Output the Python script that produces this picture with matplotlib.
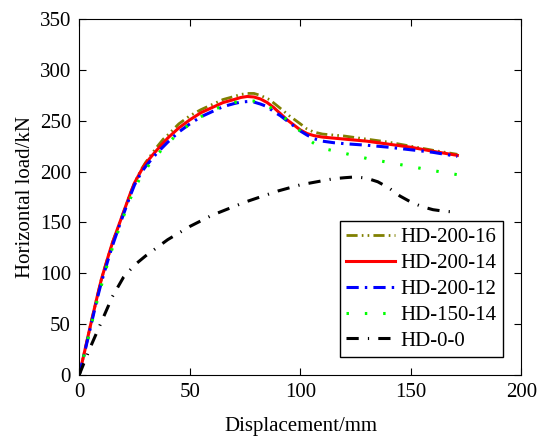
import matplotlib
matplotlib.use("Agg")
from matplotlib import pyplot as plt

# curves (displacement mm, horizontal load kN)
x_200_16 = [0, 2, 5, 8, 10, 13, 15, 18, 20, 23, 25, 28, 30, 33, 35, 38, 40, 45, 50, 55, 60, 65, 70,
            73, 76, 79, 82, 86, 90, 95, 100, 103, 106, 110, 120, 130, 140, 150, 160, 171]
y_200_16 = [0, 19, 48, 76, 94, 116, 130, 148, 160, 178, 189, 202, 209, 218, 224, 232, 236, 247, 255, 261, 266, 271, 274,
            276, 277, 277, 275, 271, 264, 255, 247, 242, 239, 237, 235, 232, 229, 225, 221, 217]

x_200_14 = [0, 2, 5, 8, 10, 13, 15, 18, 20, 23, 25, 28, 30, 33, 35, 40, 45, 50, 55, 60, 65, 70,
            73, 76, 79, 82, 85, 88, 91, 94, 97, 100, 103, 106, 110, 120, 130, 140, 150, 160, 171]
y_200_14 = [0, 19, 48, 76, 94, 116, 130, 148, 160, 178, 189, 201, 208, 216, 221, 233, 243, 251, 258, 263, 268, 271,
            273, 274, 273.5, 271.5, 268, 263, 257, 251, 246, 241, 237.5, 235.5, 234, 232, 230, 227, 224, 220, 216]

x_200_12 = [0, 2, 5, 8, 10, 13, 15, 18, 20, 23, 25, 28, 30, 33, 35, 40, 45, 50, 55, 60, 65, 70,
            73, 76, 79, 82, 85, 88, 91, 94, 97, 100, 103, 106, 110, 115, 120, 130, 140, 150, 160, 171]
y_200_12 = [0, 18, 46, 74, 91, 113, 127, 146, 158, 176, 187, 199, 205, 213, 218, 229, 239, 247, 254, 259, 264, 267,
            268.5, 269, 268.5, 266.5, 264, 259, 255, 250, 245, 240, 236, 232.5, 230, 228.5, 227.5, 226, 224, 221.5, 219, 215]

x_150_14 = [0, 2, 5, 8, 10, 13, 15, 18, 20, 23, 25, 28, 30, 33, 35, 40, 45, 50, 55, 60, 65, 70,
            73, 76, 79, 82, 85, 88, 91, 94, 97, 100, 103, 106, 110, 120, 130, 140, 150, 160, 171]
y_150_14 = [0, 18, 45, 72, 88, 111, 125, 144, 156, 173, 183, 196, 202, 211, 216, 228, 238, 247, 254, 260, 265, 268,
            269.5, 270, 269.5, 267.5, 265, 261, 256, 251, 245, 240, 233, 228, 223, 218, 213, 209, 205, 201, 197]

x_0_0 = [0, 5, 10, 15, 20, 25, 30, 40, 50, 60, 75, 90, 100, 110, 115, 120, 125, 130, 135, 140, 145,
         150, 155, 160, 165, 171]
y_0_0 = [0, 27, 52, 77, 96, 108, 117, 133, 146, 157, 170, 181, 187, 191, 193, 194, 194.8, 193.5, 190, 184, 176,
         170, 165.5, 162.5, 161, 160]

plt.rcParams["font.family"] = ["Liberation Serif", "DejaVu Serif"]

fig = plt.figure(figsize=(5.39, 4.37), dpi=100)
ax = fig.add_axes([0.1471, 0.1426, 0.8204, 0.8132])

ax.plot(x_200_16, y_200_16, color="#808000", lw=2.0, dashes=(4, 1.5, 0.6, 1.5, 0.6, 1.5), label="HD-200-16")
ax.plot(x_200_14, y_200_14, color="red", lw=2.2, label="HD-200-14")
ax.plot(x_200_12, y_200_12, color="blue", lw=2.2, dashes=(4, 2, 0.8, 2), label="HD-200-12")
ax.plot(x_150_14, y_150_14, color="#00ff00", lw=2.2, dashes=(0.8, 5.2), label="HD-150-14")
ax.plot(x_0_0, y_0_0, color="black", lw=2.2, dashes=(4, 3, 0.4, 3), label="HD-0-0")

ax.set_xlim(0, 200)
ax.set_ylim(0, 350)
ax.set_xticks([0, 50, 100, 150, 200])
ax.set_yticks(range(0, 351, 50))
ax.tick_params(direction="in", top=True, right=True, labelsize=15, length=5, pad=6)
ax.set_xlabel("Displacement/mm", fontsize=15, labelpad=11)
ax.set_ylabel("Horizontal load/kN", fontsize=15, labelpad=3)

leg = ax.legend(loc="lower right", bbox_to_anchor=(0.958, 0.05), borderaxespad=0,
                fontsize=15, fancybox=False, framealpha=1, edgecolor="black",
                handlelength=2.35, handletextpad=0.25, labelspacing=0.3, borderpad=0.3)
leg.get_frame().set_linewidth(1.0)

fig.savefig("out.png", dpi=100)
